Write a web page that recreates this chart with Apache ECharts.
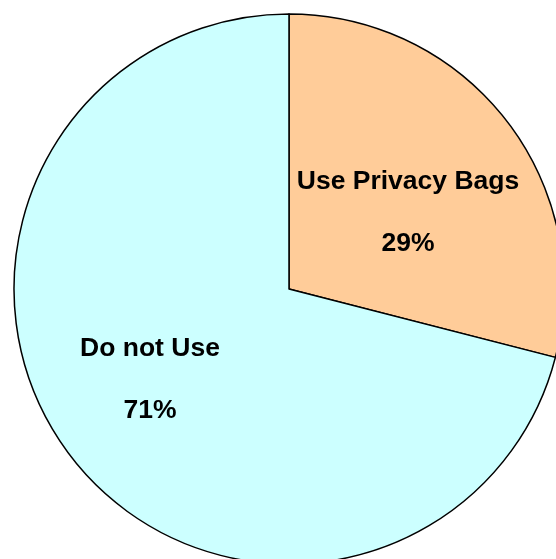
<!DOCTYPE html>
<html>
<head>
<meta charset="utf-8">
<script src="https://cdn.jsdelivr.net/npm/echarts@6/dist/echarts.min.js"></script>
<style>html,body{margin:0;padding:0;background:#fff;}#c{width:556px;height:559px;}</style>
</head>
<body>
<div id="c"></div>
<script>
var categories = ['Use Privacy Bags', 'Do not Use'];
var values = [29, 71];
var colors = ['#FFCC99', '#CCFFFF'];
var labelShift = [[8, 10], [-28, 5]];

var chart = echarts.init(document.getElementById('c'), null, {renderer: 'canvas'});
chart.setOption({
  backgroundColor: '#ffffff',
  animation: false,
  series: [{
    type: 'pie',
    center: [289, 289],
    radius: 275,
    startAngle: 90,
    clockwise: true,
    avoidLabelOverlap: false,
    data: categories.map(function (n, i) {
      return {name: n, value: values[i], itemStyle: {color: colors[i]}};
    }),
    itemStyle: {borderColor: '#000', borderWidth: 1.5},
    label: {
      show: true,
      position: 'inside',
      formatter: function (p) { return p.name + '\n\n' + p.value + '%'; },
      fontFamily: 'Liberation Sans, Arial, sans-serif',
      fontWeight: 'bold',
      fontSize: 26.5,
      lineHeight: 31,
      color: '#000'
    },
    labelLine: {show: false},
    labelLayout: function (p) {
      return {dx: labelShift[p.dataIndex][0], dy: labelShift[p.dataIndex][1]};
    },
    emphasis: {disabled: true}
  }]
});
</script>
</body>
</html>
